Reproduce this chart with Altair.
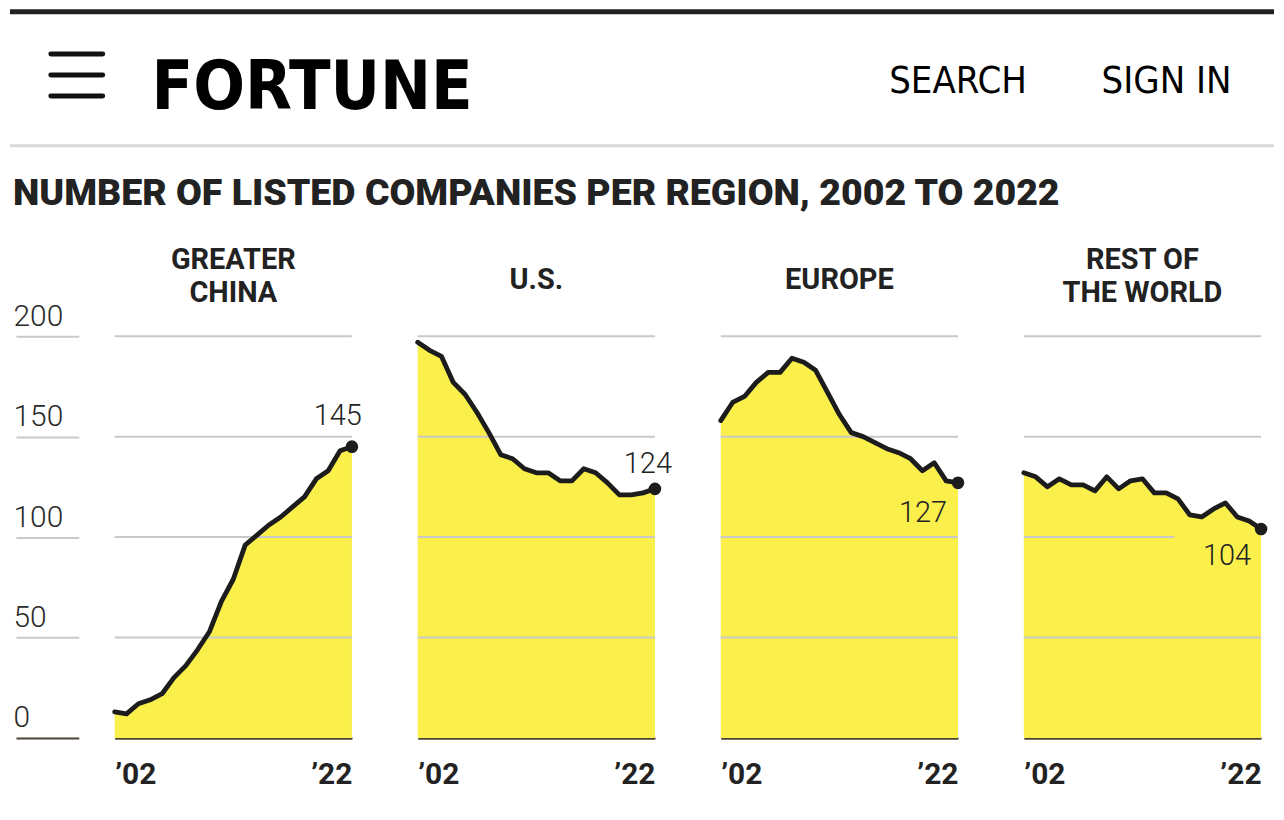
import altair as alt
import pandas as pd

# ---------------- data ----------------
years = list(range(2002, 2023))
china = [13, 12, 17, 19, 22, 30, 36, 44, 53, 68, 79, 96, 101, 106, 110, 115, 120, 129, 133, 143, 145]
us = [197, 193, 190, 177, 171, 162, 152, 141, 139, 134, 132, 132, 128, 128, 134, 132, 127, 121, 121, 122, 124]
europe = [158, 167, 170, 177, 182, 182, 189, 187, 183, 172, 161, 152, 150, 147, 144, 142, 139, 133, 137, 128, 127]
rest = [132, 130, 125, 129, 126, 126, 123, 130, 124, 128, 129, 122, 122, 119, 111, 110, 114, 117, 110, 108, 104]
regions = ["GREATER\nCHINA", "U.S.", "EUROPE", "REST OF\nTHE WORLD"]
series = [china, us, europe, rest]
y_ticks = [0, 50, 100, 150, 200]
grid_values = [50, 100, 150, 200]
x_ticks = [2002, 2022]
x_tick_labels = ["’02", "’22"]
title_text = "NUMBER OF LISTED COMPANIES PER REGION, 2002 TO 2022"

# ---------------- style ----------------
W, H = 238, 403
YELLOW = "#fbef4c"
INK = "#1c1c1c"
GRID = "#c9c9c9"
BASE = "#4a4233"
SANS = "Roboto, Inter, sans-serif"
NARROW = "Liberation Sans Narrow, DejaVu Sans Condensed, Roboto, sans-serif"
# per-panel label offsets (dx, dy) of the final value annotation
label_offsets = [(10, -22), (17, -16), (-11, 39), (-10, 36)]
# grid line end (year) per panel and grid value, where the label box masks it
grid_cut = {(3, 100): 2014.7}

x_scale = alt.Scale(domain=[2002, 2022], nice=False, zero=False)
y_scale = alt.Scale(domain=[0, 200], nice=False, zero=True)

label_expr = " : ".join(
    [f"datum.value == {v} ? '{t}'" for v, t in zip(x_ticks[:-1], x_tick_labels[:-1])]
    + [f"'{x_tick_labels[-1]}'"]
)

x_axis = alt.Axis(
    values=x_ticks, labelExpr=label_expr, title=None, grid=False, ticks=False, tickSize=0,
    domainColor=BASE, domainWidth=2.5, labelFlush=True, labelFont=SANS, labelFontSize=30,
    labelFontWeight="bold", labelColor="#222222", labelPadding=46, labelBaseline="alphabetic",
)


def y_axis(first):
    if not first:
        return None
    return alt.Axis(
        values=y_ticks, title=None, grid=False, domain=False, ticks=True, tickSize=63,
        offset=36, tickWidth=2,
        tickColor={"condition": {"test": "datum.value === 0", "value": BASE}, "value": GRID},
        labelAlign="left", labelPadding=3, labelBaseline="alphabetic", labelOffset=-11,
        labelFont=SANS, labelFontSize=30, labelFontWeight=300, labelColor="#2a2a2a",
        labelFlush=False, labelBound=False, labelOverlap=False,
    )


def panel(i, name, values):
    first = i == 0
    df = pd.DataFrame({"year": years, "value": values})
    ya = y_axis(first)
    x_enc = alt.X("year:Q", scale=x_scale, axis=x_axis)
    y_enc = alt.Y("value:Q", scale=y_scale, axis=ya)
    base = alt.Chart(df)

    area = base.mark_area(color=YELLOW, opacity=1).encode(x=x_enc, y=y_enc)

    gdf = pd.DataFrame({
        "v": grid_values,
        "start": [2002] * len(grid_values),
        "end": [grid_cut.get((i, g), 2022) for g in grid_values],
    })
    grid = alt.Chart(gdf).mark_rule(color=GRID, strokeWidth=2).encode(
        x=alt.X("start:Q", scale=x_scale, axis=x_axis),
        x2="end:Q",
        y=alt.Y("v:Q", scale=y_scale, axis=ya),
    )

    line = base.mark_line(color=INK, strokeWidth=4.8, strokeJoin="round", strokeCap="round").encode(
        x=x_enc, y=y_enc
    )
    last = base.transform_filter(f"datum.year == {years[-1]}")
    dot = last.mark_circle(color=INK, size=160, opacity=1).encode(x=x_enc, y=y_enc)
    dx, dy = label_offsets[i]
    lab = last.mark_text(
        align="right", baseline="alphabetic", dx=dx, dy=dy, font=SANS, fontSize=29,
        fontWeight=300, color="#222222",
    ).encode(x=x_enc, y=y_enc, text=alt.Text("value:Q", format="d"))

    n_lines = name.count("\n") + 1
    head = alt.Chart(pd.DataFrame({"name": [name]})).mark_text(
        align="center", baseline="middle", lineBreak="\n", font=SANS, fontSize=29,
        fontWeight="bold", color="#222222", lineHeight=33,
    ).encode(x=alt.value(W / 2), y=alt.value(-56 - 20 * (n_lines - 1)), text="name:N")

    layers = [area, grid, line, dot, lab, head]

    if first:
        one = alt.Chart(pd.DataFrame({"k": [0]}))
        layers.append(one.mark_rect(color="#222222").encode(
            x=alt.value(-105), x2=alt.value(1163), y=alt.value(-328), y2=alt.value(-323)))
        for yy in (-283, -262, -241):
            layers.append(one.mark_rule(color="#111111", strokeWidth=5, strokeCap="round").encode(
                x=alt.value(-64), x2=alt.value(-12), y=alt.value(yy)))
        layers.append(one.mark_rule(color="#d9d9dd", strokeWidth=3).encode(
            x=alt.value(-105), x2=alt.value(1163), y=alt.value(-191)))
        layers.append(one.mark_text(
            align="left", baseline="alphabetic", font=NARROW, fontSize=68, fontWeight="bold",
            color="#000000").encode(
            x=alt.value(37), y=alt.value(-228), text=alt.value("FORTUNE")))
        layers.append(one.mark_text(
            align="left", baseline="alphabetic", font=NARROW, fontSize=38, fontWeight="normal",
            color="#000000").encode(
            x=alt.value(777), y=alt.value(-244), text=alt.value("SEARCH")))
        layers.append(one.mark_text(
            align="left", baseline="alphabetic", font=NARROW, fontSize=38, fontWeight="normal",
            color="#000000").encode(
            x=alt.value(990), y=alt.value(-244), text=alt.value("SIGN IN")))
        layers.append(one.mark_text(
            align="left", baseline="alphabetic", font=SANS, fontSize=37.6, fontWeight=900,
            color="#222222").encode(
            x=alt.value(-102), y=alt.value(-132), text=alt.value(title_text)))

    return alt.layer(*layers).properties(width=W, height=H)


panels = [panel(i, n, s) for i, (n, s) in enumerate(zip(regions, series))]

chart = alt.hconcat(*panels, spacing=66, bounds="flush").properties(
    padding=0, background="white"
).configure_view(strokeWidth=0)

chart.save("out.html", embed_options={"renderer": "svg", "actions": False})
